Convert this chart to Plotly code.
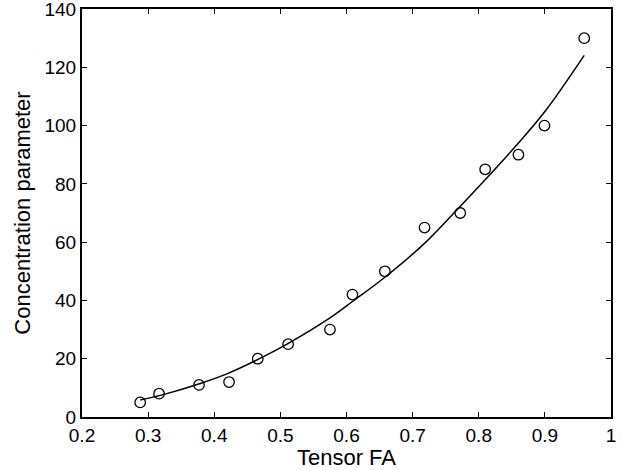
import plotly.graph_objects as go

# Measured data points
fa = [0.288, 0.3165, 0.377, 0.4224, 0.4658, 0.5117, 0.575, 0.609, 0.658,
      0.718, 0.772, 0.8097, 0.860, 0.8994, 0.9595]
kappa = [5, 8, 11, 12, 20, 25, 30, 42, 50, 65, 70, 85, 90, 100, 130]

# Fitted curve
fit_x = [0.288, 0.32, 0.38, 0.42, 0.47, 0.51, 0.575, 0.61, 0.66, 0.72,
         0.77, 0.81, 0.86, 0.90, 0.9595]
fit_y = [5.8, 7.5, 11.6, 14.9, 20.2, 25.0, 34.0, 39.8, 48.3, 60.0,
         71.8, 81.5, 94.0, 104.8, 124.1]

x_ticks = [0.2, 0.3, 0.4, 0.5, 0.6, 0.7, 0.8, 0.9, 1.0]
x_tick_text = ["0.2", "0.3", "0.4", "0.5", "0.6", "0.7", "0.8", "0.9", "1"]
y_ticks = [0, 20, 40, 60, 80, 100, 120, 140]

FONT = "Liberation Sans, Arial, Helvetica"

fig = go.Figure()
fig.add_trace(go.Scatter(x=fit_x, y=fit_y, mode="lines",
                         line=dict(color="black", width=1.5, shape="spline"),
                         showlegend=False))
fig.add_trace(go.Scatter(x=fa, y=kappa, mode="markers",
                         marker=dict(symbol="circle-open", size=10.5,
                                     color="black", line=dict(width=1.3)),
                         showlegend=False))

axis_common = dict(showline=True, linecolor="black", linewidth=2, mirror="ticks",
                   ticks="inside", ticklen=5, tickwidth=1, tickcolor="black",
                   showgrid=False, zeroline=False, automargin=False,
                   ticklabeloverflow="allow",
                   tickfont=dict(family=FONT, size=19, color="black"))

fig.update_layout(
    width=633, height=470,
    margin=dict(l=82, r=22, t=9, b=53),
    paper_bgcolor="white", plot_bgcolor="white",
    font=dict(family=FONT, size=19, color="black"),
    xaxis=dict(range=[0.2, 1.0], tickvals=x_ticks, ticktext=x_tick_text,
               title=dict(text="Tensor FA", standoff=2,
                          font=dict(family=FONT, size=22)),
               **axis_common),
    yaxis=dict(range=[0, 140], tickvals=y_ticks,
               title=dict(text="Concentration parameter", standoff=8,
                          font=dict(family=FONT, size=22)),
               **axis_common),
)

fig.write_html("out.html")
